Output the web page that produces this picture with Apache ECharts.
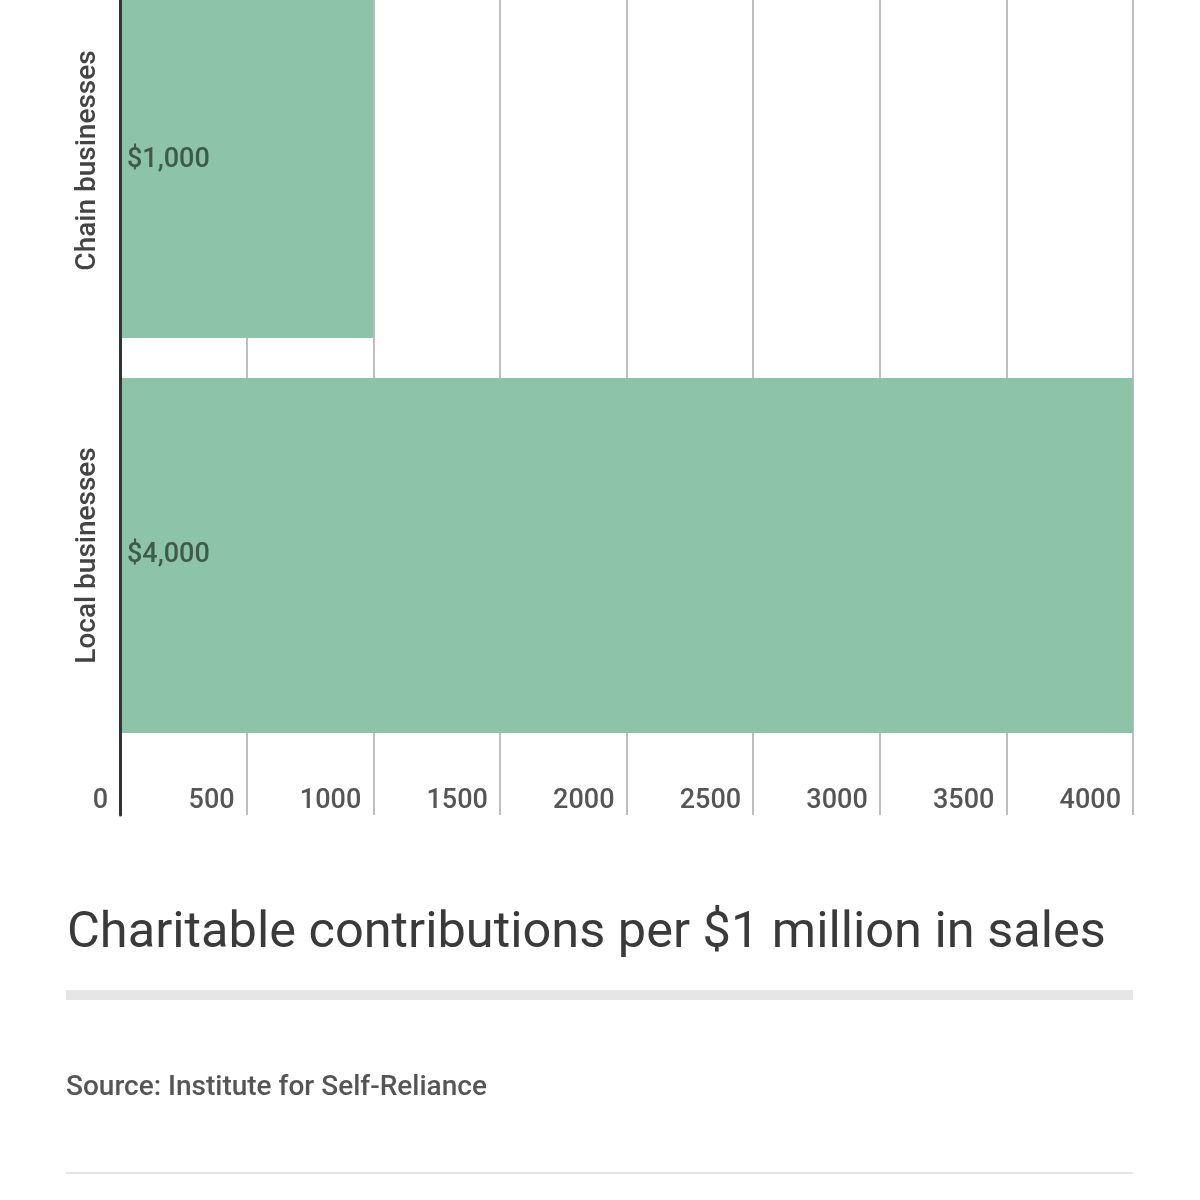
<!DOCTYPE html>
<html><head><meta charset="utf-8">
<script src="https://cdn.jsdelivr.net/npm/echarts@6/dist/echarts.min.js"></script>
<style>html,body{margin:0;padding:0;background:#fff}#c{width:1200px;height:1200px}</style>
</head><body><div id="c"></div>
<script>
const categories = ['Local businesses', 'Chain businesses'];
const values = [4000, 1000];
const valueLabels = ['$4,000', '$1,000'];
const axisMin = 0, axisMax = 4000, axisStep = 500;
const titleText = 'Charitable contributions per $1 million in sales';
const sourceText = 'Source: Institute for Self-Reliance';

const FONT = 'Roboto';
const chart = echarts.init(document.getElementById('c'));
chart.setOption({
  animation: false,
  backgroundColor: '#fff',
  grid: [
    {left: 120, right: 67, top: -37, height: 790, outerBoundsMode: 'none', containLabel: false},
    {left: 120, right: 67, top: 753, height: 62, outerBoundsMode: 'none', containLabel: false}
  ],
  xAxis: [
    {gridIndex: 0, type: 'value', min: axisMin, max: axisMax, interval: axisStep,
     axisLine: {show: false}, axisTick: {show: false}, axisLabel: {show: false},
     splitLine: {show: true, lineStyle: {color: '#a8a8a8', width: 1.5}}},
    {gridIndex: 1, type: 'value', min: axisMin, max: axisMax, interval: axisStep,
     axisLine: {show: false}, axisTick: {show: false},
     axisLabel: {show: true, inside: true, margin: 0, align: 'right', padding: [0, 12, 0, 0],
       formatter: v => String(v),
       fontFamily: FONT, fontWeight: 500, fontSize: 27, color: '#555', verticalAlign: 'bottom'},
     splitLine: {show: true, lineStyle: {color: '#a8a8a8', width: 1.5}}}
  ],
  yAxis: [
    {gridIndex: 0, type: 'category', data: categories, z: 5,
     axisLine: {show: true, lineStyle: {color: '#333', width: 3}},
     axisTick: {show: false},
     axisLabel: {rotate: 90, margin: 18, fontFamily: FONT, fontWeight: 500, fontSize: 28, color: '#444'}},
    {gridIndex: 1, type: 'value', min: 0, max: 1, z: 5,
     axisLine: {show: true, lineStyle: {color: '#333', width: 3}},
     axisTick: {show: false}, axisLabel: {show: false}, splitLine: {show: false}}
  ],
  series: [{
    type: 'bar', xAxisIndex: 0, yAxisIndex: 0,
    data: values, barWidth: 355,
    itemStyle: {color: '#8dc3a7'},
    label: {show: true, position: 'insideLeft', distance: 7,
      formatter: p => valueLabels[p.dataIndex],
      fontFamily: FONT, fontWeight: 500, fontSize: 27, color: '#3d5a4a'}
  }],
  title: {text: titleText, left: 62, top: 904,
    textStyle: {fontFamily: FONT, fontWeight: 'normal', fontSize: 50.5, color: '#3a3a3a'}},
  graphic: [
    {type: 'rect', shape: {x: 66, y: 990, width: 1067, height: 10}, style: {fill: '#e6e6e6'}},
    {type: 'text', x: 66, y: 1088, style: {text: sourceText, font: '500 28px Roboto', fill: '#555', textVerticalAlign: 'middle'}},
    {type: 'rect', shape: {x: 66, y: 1172, width: 1067, height: 2}, style: {fill: '#e3e3e3'}}
  ]
});
</script></body></html>
